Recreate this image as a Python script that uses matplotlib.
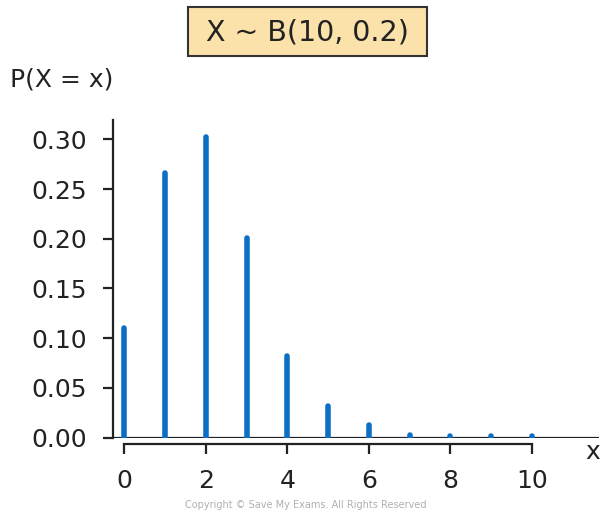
import matplotlib
matplotlib.use("Agg")
import matplotlib.pyplot as plt
from matplotlib.patches import Rectangle

plt.rcParams['font.family'] = ['DejaVu Sans']

x_vals = [0, 1, 2, 3, 4, 5, 6, 7, 8, 9, 10]
probs = [0.110, 0.266, 0.302, 0.201, 0.082, 0.032, 0.013, 0.003, 0.002, 0.002, 0.002]
y_ticks = [0.00, 0.05, 0.10, 0.15, 0.20, 0.25, 0.30]
x_ticks = [0, 2, 4, 6, 8, 10]
title = "X ~ B(10, 0.2)"

fig = plt.figure(figsize=(6.03, 5.16), dpi=100)
ax = fig.add_axes([113/603, (516-437.5)/516, (599-113)/603, (437.5-120)/516])

bar_color = '#0b6fc4'
ax.vlines(x_vals, 0, probs, colors=bar_color, linewidth=4.0, capstyle='round', zorder=3)

ax.set_xlim(-0.28, 11.65)
ax.set_ylim(0, 0.3195)
ax.axhline(0, color='#222222', linewidth=1.6, zorder=2)

for s in ['top', 'right']:
    ax.spines[s].set_visible(False)
ax.spines['left'].set_linewidth(1.6)
ax.spines['left'].set_color('#222222')
ax.spines['bottom'].set_position(('outward', 5))
ax.spines['bottom'].set_bounds(0, 10)
ax.spines['bottom'].set_linewidth(1.6)
ax.spines['bottom'].set_color('#222222')

ax.set_yticks(y_ticks)
ax.set_yticklabels([f"{v:.2f}" for v in y_ticks])
ax.set_xticks(x_ticks)
ax.set_xticklabels([str(v) for v in x_ticks])
ax.tick_params(axis='both', labelsize=18, colors='#222222', width=1.6, length=7.5)
ax.tick_params(axis='y', pad=11)
ax.tick_params(axis='x', pad=10)

fig.text(10/603, 1 - 80/516, "P(X = x)", fontsize=18, color='#222222', va='center', ha='left')
fig.text(593/603, 1 - 452/516, "x", fontsize=18, color='#222222', va='center', ha='center')

box = Rectangle((188/603, 1 - 56/516), (427-188)/603, 49/516, transform=fig.transFigure,
                facecolor='#fbe1aa', edgecolor='#333333', linewidth=1.5)
fig.patches.append(box)
fig.text(307/603, 1 - 32/516, title, fontsize=20.5, color='#222222', ha='center', va='center')

fig.text(306/603, 1 - 505/516, "Copyright © Save My Exams. All Rights Reserved",
         fontsize=7, color='#b0b0b0', ha='center', va='center')

fig.savefig("out.png", dpi=100)
